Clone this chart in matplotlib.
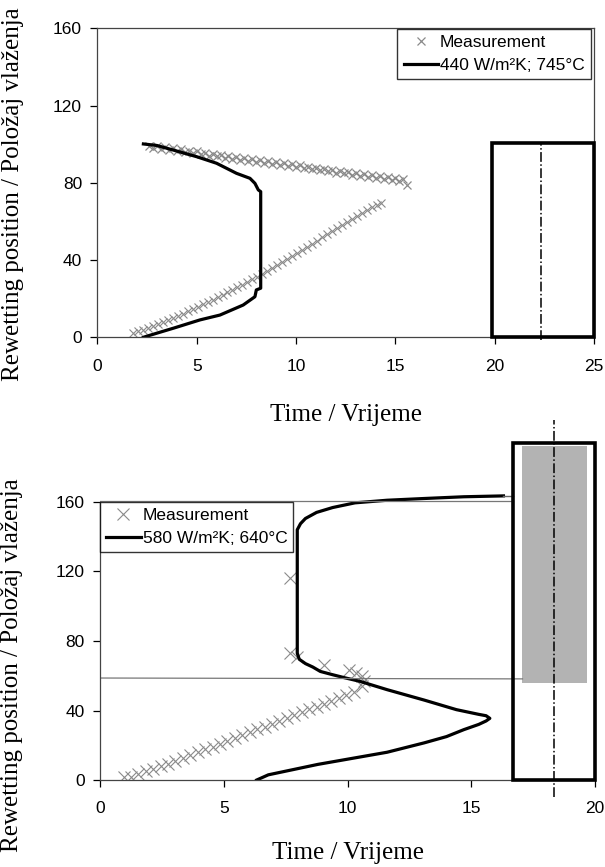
import matplotlib
matplotlib.use("Agg")
import matplotlib.pyplot as plt
from matplotlib.patches import Rectangle

# ---- top panel data ----
top_fit_x = [2.32, 3.0, 3.49, 5.0, 6.0, 7.0, 7.68, 7.93, 8.1, 8.22, 8.22, 8.0, 7.93, 7.34, 6.17, 5.17, 3.83, 2.99, 2.32]
top_fit_y = [100.1, 99.3, 97.9, 93.5, 90.1, 84.9, 82.3, 79.7, 76.3, 75.4, 25.4, 24.5, 21.0, 16.7, 11.5, 9.0, 4.7, 2.1, 0.0]

top_hi_x = [2.6, 2.8, 3.0, 3.2, 3.4, 3.6, 3.8, 4.0, 4.2, 4.4, 4.6, 4.8, 5.0, 5.2, 5.4, 5.6, 5.8,
            6.0, 6.2, 6.4, 6.6, 6.8, 7.0, 7.2, 7.4, 7.6, 7.8, 8.0, 8.2, 8.4, 8.6, 8.8, 9.0,
            9.2, 9.4, 9.6, 9.8, 10.0, 10.2, 10.4, 10.6, 10.8, 11.0, 11.2, 11.4, 11.6, 11.8, 12.0,
            12.2, 12.4, 12.6, 12.8, 13.0, 13.2, 13.4, 13.6, 13.8, 14.0, 14.2, 14.4, 14.6, 14.8,
            15.0, 15.2, 15.4, 15.6]
top_hi_y = [98.9, 98.0, 98.9, 97.4, 98.4, 96.9, 97.8, 96.3, 97.3, 95.8, 96.7, 95.2, 96.2, 94.7, 95.6, 94.1, 95.1,
            93.6, 94.5, 93.0, 94.0, 92.5, 93.4, 91.9, 92.9, 91.4, 92.3, 90.8, 91.7, 90.3, 91.2,
            89.7, 90.6, 89.2, 90.1, 88.6, 89.5, 88.1, 89.0, 87.5, 88.4, 87.0, 87.9, 86.4, 87.3,
            85.9, 86.8, 85.3, 86.2, 84.8, 85.7, 84.2, 85.1, 83.7, 84.6, 83.1, 84.0, 82.5, 83.5,
            82.0, 82.9, 81.4, 82.4, 80.9, 81.8, 78.8]
top_lo_x = [1.80, 2.05, 2.30, 2.55, 2.80, 3.05, 3.30, 3.55, 3.80, 4.05, 4.30, 4.55, 4.80,
            5.05, 5.30, 5.55, 5.80, 6.05, 6.30, 6.55, 6.80, 7.05, 7.30, 7.55, 7.80, 8.05,
            8.30, 8.55, 8.80, 9.05, 9.30, 9.55, 9.80, 10.05, 10.30, 10.55, 10.80, 11.05,
            11.30, 11.55, 11.80, 12.05, 12.30, 12.55, 12.80, 13.05, 13.30, 13.55, 13.80, 14.05, 14.25]
top_lo_y = [2.0, 3.0, 4.0, 5.0, 6.0, 7.1, 8.1, 9.1, 10.2, 11.2, 12.3, 13.4, 14.6,
            15.8, 17.0, 18.2, 19.4, 20.6, 21.9, 23.2, 24.5, 25.9, 27.2, 28.6, 30.0, 31.3,
            32.8, 34.3, 35.8, 37.3, 38.8, 40.4, 42.0, 43.6, 45.2, 46.8, 48.4, 50.0,
            51.7, 53.3, 54.9, 56.5, 58.0, 59.6, 61.1, 62.7, 64.2, 65.8, 67.3, 68.5, 69.5]

# ---- bottom panel data ----
bot_fit_x = [6.33, 6.8, 7.8, 8.8, 10.0, 11.6, 13.1, 14.0, 14.7, 15.3, 15.6, 15.75, 15.6, 15.3, 14.4,
             13.1, 11.6, 10.5, 9.9, 9.4, 8.9, 8.6, 8.3, 8.05, 7.97, 7.97, 8.1, 8.3, 8.75, 9.4,
             10.3, 11.6, 13.1, 14.7, 16.3]
bot_fit_y = [0.0, 3.0, 6.0, 9.0, 12.0, 16.0, 21.4, 25.0, 29.0, 32.0, 34.0, 35.5, 37.0, 37.8, 40.5,
             46.0, 52.0, 56.8, 58.8, 60.6, 62.5, 65.0, 67.0, 69.5, 73.0, 144.0, 147.5, 150.5, 154.0, 156.8,
             159.5, 161.0, 162.0, 163.0, 163.5]
bot_meas_x = [0.95, 1.25, 1.55, 1.85, 2.15, 2.45, 2.75, 3.05, 3.35, 3.65, 3.95, 4.25, 4.55, 4.85,
              5.15, 5.45, 5.75, 6.05, 6.35, 6.65, 6.95, 7.25, 7.55, 7.85, 8.15, 8.45, 8.75,
              9.05, 9.35, 9.65, 9.95, 10.25, 10.6,
              7.66, 7.66, 7.97, 9.05, 10.07, 10.34, 10.6, 10.68]
bot_meas_y = [2.0, 1.5, 3.6, 5.0, 6.3, 7.8, 9.5, 11.0, 12.8, 14.4, 16.0, 17.7, 19.2, 21.0,
              22.6, 24.2, 25.8, 27.5, 29.2, 30.8, 32.4, 34.0, 35.7, 37.3, 39.0, 40.6, 42.2,
              43.8, 45.5, 47.1, 48.7, 50.4, 54.0,
              116.5, 73.0, 71.0, 66.3, 63.4, 61.5, 59.6, 56.8]

x_ticks_top = [0, 5, 10, 15, 20, 25]
x_ticks_bot = [0, 5, 10, 15, 20]
y_ticks = [0, 40, 80, 120, 160]

sans = "Liberation Sans"
serif = "Liberation Serif"
gray = "#8a8a8a"
ylabel = "Rewetting position / Položaj vlaženja"
xlabel = "Time / Vrijeme"

fig = plt.figure(figsize=(6.05, 8.67), dpi=100)

# ---------- top panel ----------
ax1 = fig.add_axes([0.1608, 0.6110, 0.8215, 0.3564])
ax1.plot(top_hi_x, top_hi_y, linestyle="none", marker="x", ms=6, mew=0.9, color=gray,
         label="Measurement")
ax1.plot(top_lo_x, top_lo_y, linestyle="none", marker="x", ms=5.5, mew=0.8, color=gray)
ax1.plot(top_fit_x, top_fit_y, color="black", lw=2.3, label="440 W/m²K; 745°C")
ax1.add_patch(Rectangle((19.84, 0), 25 - 19.84, 100.5, fill=False, ec="black", lw=2.6,
                        clip_on=False, zorder=5))
ax1.plot([22.32, 22.32], [-1.5, 100.5], color="black", lw=1.1, linestyle="-.", clip_on=False)
ax1.set_xlim(0, 25)
ax1.set_ylim(0, 160)
ax1.set_xticks(x_ticks_top)
ax1.set_yticks(y_ticks)
for sp in ax1.spines.values():
    sp.set_linewidth(0.9)
    sp.set_color("#444444")
ax1.tick_params(direction="out", length=5, width=0.9, labelsize=12.5)
ax1.tick_params(axis="x", pad=11)
ax1.tick_params(axis="y", pad=6)
for t in ax1.get_xticklabels() + ax1.get_yticklabels():
    t.set_family(sans)
ax1.set_xlabel(xlabel, family=serif, fontsize=18, labelpad=21)
ax1.set_ylabel(ylabel, family=serif, fontsize=18)
ax1.yaxis.set_label_coords(-0.148, 0.462)
leg1 = ax1.legend(loc="upper right", bbox_to_anchor=(0.993, 0.998), borderaxespad=0,
                  prop={"family": sans, "size": 12.5}, fancybox=False, edgecolor="black",
                  handlelength=2.0, handletextpad=0.1, borderpad=0.35, labelspacing=0.45)
leg1.get_frame().set_linewidth(1.0)

# ---------- bottom panel ----------
ax2 = fig.add_axes([0.1653, 0.1003, 0.8182, 0.4009])
ax2.plot(bot_meas_x, bot_meas_y, linestyle="none", marker="x", ms=9, mew=0.8, color=gray,
         label="Measurement")
ax2.plot(bot_fit_x, bot_fit_y, color="black", lw=2.3, label="580 W/m²K; 640°C")
ax2.plot([16.3, 16.7], [163.5, 163.5], color="#666666", lw=1.0)
ax2.plot([0, 16.7], [160.3, 160.3], color="#777777", lw=0.9)
ax2.plot([0, 17.07], [58.7, 58.2], color="#777777", lw=0.9)
ax2.add_patch(Rectangle((17.07, 55.8), 19.68 - 17.07, 192 - 55.8, color="#b3b3b3", lw=0, zorder=1))
ax2.add_patch(Rectangle((16.7, 0), 20 - 16.7, 194, fill=False, ec="black", lw=2.6,
                        clip_on=False, zorder=5))
ax2.plot([18.36, 18.36], [-10, 207], color="black", lw=1.1, linestyle="-.", clip_on=False)
ax2.set_xlim(0, 20)
ax2.set_ylim(0, 200)
ax2.set_xticks(x_ticks_bot)
ax2.set_yticks(y_ticks)
ax2.spines["top"].set_visible(False)
ax2.spines["right"].set_visible(False)
ax2.spines["left"].set_bounds(0, 160)
for sp in ax2.spines.values():
    sp.set_linewidth(0.9)
    sp.set_color("#444444")
ax2.tick_params(direction="out", length=5, width=0.9, labelsize=12.5)
ax2.tick_params(axis="x", pad=10)
ax2.tick_params(axis="y", pad=6)
for t in ax2.get_xticklabels() + ax2.get_yticklabels():
    t.set_family(sans)
ax2.set_xlabel(xlabel, family=serif, fontsize=18, labelpad=19)
ax2.set_ylabel(ylabel, family=serif, fontsize=18)
ax2.yaxis.set_label_coords(-0.155, 0.33)
leg2 = ax2.legend(loc="upper left", bbox_to_anchor=(0.0, 0.8), borderaxespad=0,
                  prop={"family": sans, "size": 12.5}, fancybox=False, edgecolor="black",
                  handlelength=2.0, handletextpad=0.1, borderpad=0.35, labelspacing=0.45)
leg2.get_frame().set_linewidth(1.0)

fig.savefig("out.png", dpi=100)
